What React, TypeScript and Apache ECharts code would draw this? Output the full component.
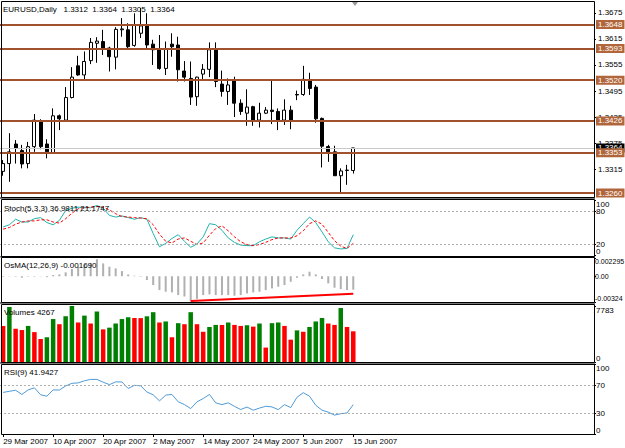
import React, { useEffect, useRef } from "react";
import * as echarts from "echarts";

// ---------- data ----------
const symbolTitle = "EURUSD,Daily";
const firstDay = [2007, 2, 29]; // 29 Mar 2007 (month 0-based)
const TOTAL_SLOTS = 95; // visible bar slots incl. empty right shift

// [open, high, low, close]
const ohlc: number[][] = [
  [1.3310, 1.3336, 1.3300, 1.3328],
  [1.3328, 1.3398, 1.3286, 1.3355],
  [1.3373, 1.3382, 1.3328, 1.3363],
  [1.3358, 1.3371, 1.3317, 1.3327],
  [1.3328, 1.3378, 1.3317, 1.3367],
  [1.3367, 1.3442, 1.3355, 1.3428],
  [1.3425, 1.3430, 1.3361, 1.3367],
  [1.3373, 1.3384, 1.3340, 1.3355],
  [1.3352, 1.3455, 1.3350, 1.3438],
  [1.3438, 1.3441, 1.3405, 1.3431],
  [1.3428, 1.3504, 1.3427, 1.3480],
  [1.3480, 1.3550, 1.3478, 1.3527],
  [1.3553, 1.3576, 1.3530, 1.3532],
  [1.3532, 1.3586, 1.3522, 1.3563],
  [1.3565, 1.3617, 1.3557, 1.3607],
  [1.3605, 1.3619, 1.3560, 1.3610],
  [1.3609, 1.3636, 1.3578, 1.3594],
  [1.3594, 1.3597, 1.3540, 1.3574],
  [1.3573, 1.3642, 1.3545, 1.3637],
  [1.3636, 1.3663, 1.3620, 1.3638],
  [1.3636, 1.3651, 1.3591, 1.3597],
  [1.3600, 1.3674, 1.3597, 1.3647],
  [1.3628, 1.3686, 1.3617, 1.3645],
  [1.3647, 1.3674, 1.3590, 1.3601],
  [1.3603, 1.3613, 1.3555, 1.3590],
  [1.3591, 1.3624, 1.3544, 1.3547],
  [1.3547, 1.3609, 1.3532, 1.3591],
  [1.3603, 1.3628, 1.3574, 1.3597],
  [1.3601, 1.3620, 1.3517, 1.3544],
  [1.3541, 1.3564, 1.3517, 1.3527],
  [1.3524, 1.3563, 1.3463, 1.3481],
  [1.3482, 1.3528, 1.3461, 1.3527],
  [1.3534, 1.3557, 1.3521, 1.3545],
  [1.3545, 1.3607, 1.3527, 1.3590],
  [1.3591, 1.3607, 1.3504, 1.3517],
  [1.3511, 1.3542, 1.3482, 1.3494],
  [1.3494, 1.3524, 1.3463, 1.3509],
  [1.3519, 1.3528, 1.3435, 1.3467],
  [1.3467, 1.3476, 1.3440, 1.3448],
  [1.3444, 1.3499, 1.3415, 1.3458],
  [1.3459, 1.3461, 1.3415, 1.3428],
  [1.3428, 1.3468, 1.3411, 1.3444],
  [1.3444, 1.3458, 1.3442, 1.3451],
  [1.3451, 1.3521, 1.3419, 1.3448],
  [1.3448, 1.3455, 1.3405, 1.3427],
  [1.3428, 1.3476, 1.3417, 1.3451],
  [1.3451, 1.3461, 1.3407, 1.3427],
  [1.3487, 1.3496, 1.3474, 1.3486],
  [1.3487, 1.3553, 1.3484, 1.3522],
  [1.3518, 1.3537, 1.3486, 1.3501],
  [1.3504, 1.3509, 1.3422, 1.3431],
  [1.3432, 1.3434, 1.3319, 1.3368],
  [1.3367, 1.3371, 1.3332, 1.3355],
  [1.3355, 1.3369, 1.3300, 1.3300],
  [1.3300, 1.3317, 1.3261, 1.3311],
  [1.3312, 1.3325, 1.3279, 1.3313],
  [1.3312, 1.3364, 1.3305, 1.3364],
];

const stochK = [
  51, 55, 65, 60, 60, 66, 68, 59, 55, 63, 81, 85, 87, 86, 86, 90, 85, 72, 69, 71,
  68, 65, 68, 65, 39, 15, 21, 30, 37, 25, 14, 20, 33, 57, 55, 45, 31, 23, 18, 17,
  17, 24, 29, 33, 31, 31, 29, 45, 57, 69, 59, 42, 24, 13, 11, 12, 36.9811,
];
const stochD = [
  47, 50, 56, 60, 62, 62, 64, 64, 60, 58, 66, 76, 84, 86, 87, 88, 87, 82, 75, 70,
  69, 68, 67, 66, 55, 38, 25, 22, 29, 31, 25, 19, 22, 36, 48, 53, 44, 33, 24, 19,
  17, 19, 23, 28, 31, 31, 31, 35, 44, 57, 62, 56, 41, 26, 16, 12, 21.1747,
];

const osma = [
  -0.00006, 0.00003, -0.00006, -0.00018, -0.00005, -0.00006, 0.00003, -0.00012, 0.00015, 0.00023,
  0.00049, 0.00091, 0.0012, 0.00141, 0.00165, 0.00215, 0.00162, 0.0012, 0.00099, 0.00065,
  0.00023, 0.00007, -0.00006, -0.00048, -0.00111, -0.00174, -0.00195, -0.00203, -0.00237, -0.00255,
  -0.0031, -0.00285, -0.00237, -0.00228, -0.00237, -0.00237, -0.00237, -0.00245, -0.00237, -0.00216,
  -0.00203, -0.00195, -0.00174, -0.00153, -0.00132, -0.00111, -0.00069, -0.00018, 0.00023, 0.00057,
  0.00023, -0.00035, -0.0009, -0.00144, -0.00161, -0.00174, -0.00169,
];
const osmaTrend = [
  [30, -0.00312],
  [56, -0.0022],
];

const volumes = [
  5014, 7640, 4632, 4441, 5014, 4154, 3199, 3438, 5969, 5252,
  6351, 7783, 5491, 6446, 5348, 7019, 4536, 4775, 5348, 5969,
  6207, 6112, 6100, 6351, 6924, 5491, 5634, 3438, 5396, 5252,
  6924, 5252, 4202, 4870, 5157, 5150, 5491, 5157, 5014, 5109,
  4918, 5348, 2005, 5396, 5491, 5014, 3104, 4393, 4202, 4870,
  5634, 6112, 5348, 5157, 7497, 4870, 4267,
];

const rsi = [
  59.4, 61, 62.5, 56.5, 63, 66, 56, 54, 63, 62.8,
  68.6, 72.4, 73, 76, 78, 78, 74, 70.5, 74.5, 74.3,
  65, 69.5, 68.8, 60, 56, 47.3, 55.5, 56.5, 46, 42,
  36.3, 45.9, 50.7, 56.5, 44.5, 42, 44.5, 39.5, 35, 38.5,
  34, 37, 39.6, 38.7, 34.8, 42, 37.7, 52.5, 59, 54,
  41, 34, 31.2, 27, 29, 30, 41.9427,
];

const levelLines = [1.3648, 1.3593, 1.352, 1.3426, 1.3353, 1.326];
const bidPrice = 1.3364;
const priceTicks = [1.3315, 1.3375, 1.3435, 1.3495, 1.3555, 1.3615, 1.3675];
const stochTicks = [0, 20, 80, 100];
const stochLevels = [20, 80];
const osmaTicks = [-0.00324, 0, 0.002295];
const volumeTicks = [0, 7783];
const rsiTicks = [0, 30, 70, 100];
const rsiLevels = [30, 70];
const dateLabelStep = 8;

// ---------- derived ----------
const MONTHS = ["Jan", "Feb", "Mar", "Apr", "May", "Jun", "Jul", "Aug", "Sep", "Oct", "Nov", "Dec"];
const tradingDays: string[] = [];
for (
  let t = Date.UTC(firstDay[0], firstDay[1], firstDay[2]);
  tradingDays.length < ohlc.length;
  t += 86400000
) {
  const d = new Date(t);
  const wd = d.getUTCDay();
  if (wd === 0 || wd === 6) continue;
  tradingDays.push(`${d.getUTCDate()} ${MONTHS[d.getUTCMonth()]} ${d.getUTCFullYear()}`);
}
const categories = tradingDays.concat(
  Array.from({ length: TOTAL_SLOTS - tradingDays.length }, (_, i) => `slot${i}`)
);
const candleData = ohlc.map(([o, h, l, c]) => [o, c, l, h]);
const volumeData = volumes.map((v, i) => ({
  value: v,
  itemStyle: { color: i > 0 && v > volumes[i - 1] ? "#008000" : "#ff0000" },
}));
const last = ohlc[ohlc.length - 1];

const FONT = '"Liberation Sans", Arial, sans-serif';
const FS = 8;

const panes = [
  {
    top: 2, height: 195, min: 1.3251, max: 1.37, ticks: priceTicks,
    fmt: (v: number) => v.toFixed(4), edges: false, lx: 598, fs: FS,
  },
  {
    top: 200, height: 55, min: 0, max: 100, ticks: stochTicks,
    fmt: (v: number) => String(v), edges: true, lx: 596, fs: FS,
  },
  {
    top: 258, height: 44, min: -0.00324, max: 0.002295, ticks: osmaTicks,
    fmt: (v: number) => (v === 0 ? "0.00" : String(v)), edges: true, lx: 595, fs: 7,
  },
  {
    top: 306, height: 56, min: 0, max: 7783, ticks: volumeTicks,
    fmt: (v: number) => String(v), edges: true, lx: 596, fs: FS,
  },
  {
    top: 364, height: 70, min: 0, max: 100, ticks: rsiTicks,
    fmt: (v: number) => String(v), edges: true, lx: 596, fs: FS,
  },
];
const frames = [
  [1, 196],
  [199, 57],
  [257, 45],
  [304, 58],
  [364, 70],
];
const separators = [
  [197, 2],
  [256, 1.5],
  [302, 2],
  [362, 2],
];

const showDate = (i: number) => i < tradingDays.length && i % dateLabelStep === 0;

function dotted(values: number[]) {
  return {
    symbol: "none",
    silent: true,
    label: { show: false },
    lineStyle: { color: "#b0b0b0", type: [2, 2], width: 1 },
    data: values.map((v) => ({ yAxis: v })),
  };
}

function text(x: number, y: number, s: string, va = "middle", z = 50, fs = FS) {
  return {
    type: "text",
    x,
    y,
    z,
    style: {
      text: s,
      fill: "#000",
      fontSize: fs,
      fontFamily: FONT,
      textVerticalAlign: va,
      verticalAlign: va,
    },
  };
}

const priceLabel = (bg: string) => ({
  show: true,
  position: "end",
  distance: 2,
  formatter: (p: any) => Number(p.value).toFixed(4),
  color: "#fff",
  backgroundColor: bg,
  padding: [1, 2, 0, 2],
  fontSize: FS,
  fontFamily: FONT,
});

const baseGraphic: any[] = [
  ...separators.map(([y, h]) => ({
    type: "rect",
    z: 40,
    shape: { x: 0, y, width: 595, height: h },
    style: { fill: "#7a7a7a" },
  })),
  ...frames.map(([y, h]) => ({
    type: "rect",
    z: 41,
    shape: { x: 1.5, y: y + 0.5, width: 593, height: h },
    style: { fill: "none", stroke: "#000", lineWidth: 1 },
  })),
  {
    type: "polygon",
    z: 42,
    shape: { points: [[352, 2], [358, 2], [355, 6]] },
    style: { fill: "#999" },
  },
  text(
    3,
    9,
    `${symbolTitle}   ${last[0].toFixed(4)}  ${last[1].toFixed(4)}  ${last[2].toFixed(4)}  ${last[3].toFixed(4)}`
  ),
  text(
    4,
    208,
    `Stoch(5,3,3) ${stochK[stochK.length - 1].toFixed(4)} ${stochD[stochD.length - 1].toFixed(4)}`
  ),
  text(4, 265, `OsMA(12,26,9) ${osma[osma.length - 1].toFixed(6)}`),
  text(4, 312, `Volumes ${volumes[volumes.length - 1]}`),
  text(4, 372, `RSI(9) ${rsi[rsi.length - 1].toFixed(4)}`),
];

const option: any = {
  animation: false,
  backgroundColor: "#fff",
  grid: panes.map((p) => ({ left: 0, width: 594, top: p.top, height: p.height, show: false })),
  xAxis: panes.map((_, k) => ({
    type: "category",
    gridIndex: k,
    data: categories,
    boundaryGap: true,
    axisLine: { show: false },
    splitLine: { show: false },
    axisTick:
      k === 4
        ? { show: true, alignWithLabel: true, interval: showDate, length: 3, lineStyle: { color: "#000" } }
        : { show: false },
    axisLabel:
      k === 4
        ? {
            show: true,
            interval: showDate,
            align: "left",
            fontSize: FS,
            fontFamily: FONT,
            color: "#000",
            margin: 3,
          }
        : { show: false },
  })),
  yAxis: panes.map((p, k) => ({
    type: "value",
    gridIndex: k,
    min: p.min,
    max: p.max,
    position: "right",
    axisLine: { show: false },
    splitLine: { show: false },
    axisTick: { show: true, length: 2, lineStyle: { color: "#000" }, customValues: p.ticks },
    axisLabel: { show: false },
  })),
  graphic: baseGraphic,
  series: [
    {
      type: "candlestick",
      xAxisIndex: 0,
      yAxisIndex: 0,
      data: candleData,
      barWidth: 3.5,
      itemStyle: {
        color: "#ffffff",
        color0: "#000000",
        borderColor: "#000000",
        borderColor0: "#000000",
        borderWidth: 1,
      },
      markLine: {
        symbol: "none",
        silent: true,
        precision: 4,
        z: 10,
        data: [
          {
            yAxis: bidPrice,
            lineStyle: { color: "#c8c8c8", width: 1, type: "solid" },
            label: priceLabel("#000"),
          },
          ...levelLines.map((v) => ({
            yAxis: v,
            lineStyle: { color: "#A0522D", width: 2, type: "solid" },
            label: priceLabel("#B0653A"),
          })),
        ],
      },
    },
    {
      type: "line",
      xAxisIndex: 1,
      yAxisIndex: 1,
      data: stochK,
      symbol: "none",
      lineStyle: { color: "#20B2AA", width: 1 },
      markLine: dotted(stochLevels),
    },
    {
      type: "line",
      xAxisIndex: 1,
      yAxisIndex: 1,
      data: stochD,
      symbol: "none",
      lineStyle: { color: "#ff0000", width: 1, type: [3, 2] },
    },
    {
      type: "bar",
      xAxisIndex: 2,
      yAxisIndex: 2,
      data: osma,
      barWidth: 2,
      itemStyle: { color: "#b0b0b0" },
    },
    {
      type: "line",
      xAxisIndex: 2,
      yAxisIndex: 2,
      data: osmaTrend,
      symbol: "none",
      lineStyle: { color: "#ff0000", width: 2 },
    },
    {
      type: "bar",
      xAxisIndex: 3,
      yAxisIndex: 3,
      data: volumeData,
      barWidth: 4.5,
    },
    {
      type: "line",
      xAxisIndex: 4,
      yAxisIndex: 4,
      data: rsi,
      symbol: "none",
      lineStyle: { color: "#4f9ad6", width: 1 },
      markLine: dotted(rsiLevels),
    },
  ],
};

export default function App() {
  const ref = useRef<HTMLDivElement>(null);
  useEffect(() => {
    const chart = echarts.init(ref.current!, undefined, { renderer: "svg" });
    chart.setOption(option);
    // value-axis tick labels, placed through each pane's own y scale
    const tickLabels: any[] = [];
    panes.forEach((p, k) => {
      p.ticks.forEach((v) => {
        const y = chart.convertToPixel({ yAxisIndex: k } as any, v) as unknown as number;
        const va = p.edges && v === p.max ? "top" : p.edges && v === p.min ? "bottom" : "middle";
        tickLabels.push(text(p.lx, y, p.fmt(v), va, 1, p.fs));
      });
    });
    chart.setOption({ graphic: [...baseGraphic, ...tickLabels] });
    return () => chart.dispose();
  }, []);
  return (
    <div
      ref={ref}
      style={{ position: "fixed", left: 0, top: 0, width: 625, height: 448, background: "#fff" }}
    />
  );
}
